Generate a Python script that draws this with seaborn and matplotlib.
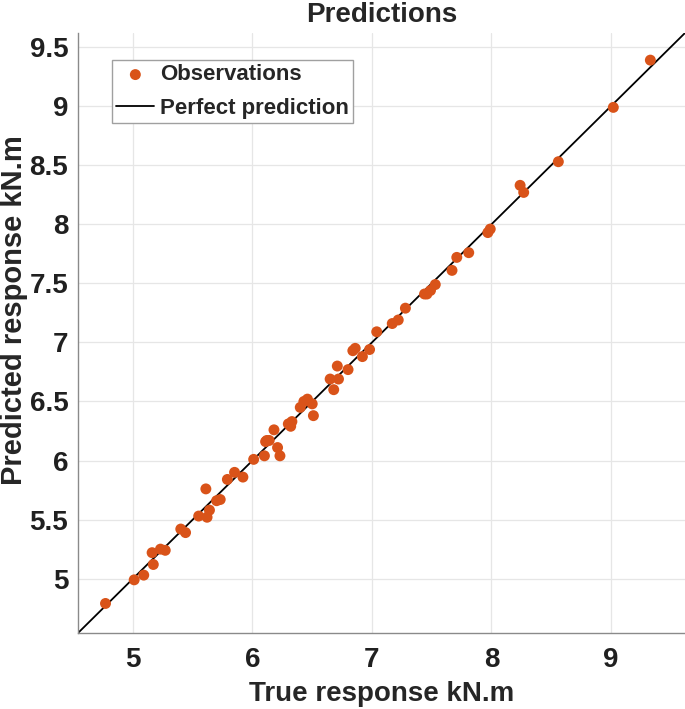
import numpy as np
import pandas as pd
import matplotlib
matplotlib.use("Agg")
import matplotlib.pyplot as plt
import seaborn as sns

# ---------------------------
# Data (true vs predicted, kN.m)
# ---------------------------
true_resp = [4.77, 5.01, 5.09, 5.16, 5.17, 5.23, 5.27, 5.40, 5.44, 5.55,
             5.61, 5.62, 5.64, 5.70, 5.73, 5.79, 5.85, 5.92, 6.01, 6.10,
             6.12, 6.11, 6.14, 6.18, 6.21, 6.23, 6.30, 6.33, 6.32, 6.40,
             6.43, 6.46, 6.51, 6.50, 6.65, 6.68, 6.71, 6.72, 6.80, 6.84,
             6.86, 6.92, 6.98, 7.04, 7.17, 7.22, 7.28, 7.44, 7.46, 7.49,
             7.53, 7.67, 7.71, 7.81, 7.97, 7.99, 8.24, 8.27, 8.56, 9.02,
             9.33]
pred_resp = [4.79, 4.99, 5.03, 5.22, 5.12, 5.25, 5.24, 5.42, 5.39, 5.53,
             5.76, 5.52, 5.58, 5.66, 5.67, 5.84, 5.90, 5.86, 6.01, 6.04,
             6.17, 6.16, 6.17, 6.26, 6.11, 6.04, 6.31, 6.33, 6.29, 6.45,
             6.50, 6.52, 6.38, 6.48, 6.69, 6.60, 6.80, 6.69, 6.77, 6.93,
             6.95, 6.88, 6.94, 7.09, 7.16, 7.19, 7.29, 7.41, 7.41, 7.44,
             7.49, 7.61, 7.72, 7.76, 7.93, 7.96, 8.33, 8.27, 8.53, 8.99,
             9.39]

x_ticks = [5, 6, 7, 8, 9]
y_ticks = [5, 5.5, 6, 6.5, 7, 7.5, 8, 8.5, 9, 9.5]
y_tick_labels = ["5", "5.5", "6", "6.5", "7", "7.5", "8", "8.5", "9", "9.5"]
axis_lim = [4.54, 9.62]

df = pd.DataFrame({"true": true_resp, "pred": pred_resp})

# ---------------------------
# Style
# ---------------------------
sns.set_style("whitegrid")
plt.rcParams["font.family"] = ["Liberation Sans", "DejaVu Sans"]
plt.rcParams["font.weight"] = "bold"

fig = plt.figure(figsize=(6.85, 7.09), dpi=100)
ax = fig.add_axes([0.1139, 0.1072, 0.8861, 0.8463])

sns.scatterplot(data=df, x="true", y="pred", ax=ax, color="#D95319",
                s=62, edgecolor="none", label="Observations", zorder=3)
ax.axline((axis_lim[0], axis_lim[0]), slope=1, color="black", lw=1.3,
          label="Perfect prediction", zorder=2)

ax.set_xlim(axis_lim)
ax.set_ylim(axis_lim)
ax.set_xticks(x_ticks)
ax.set_yticks(y_ticks)
ax.set_yticklabels(y_tick_labels)

ax.grid(True, color="#e6e6e6", lw=0.9)
for side in ["top", "right"]:
    ax.spines[side].set_visible(False)
for side in ["left", "bottom"]:
    ax.spines[side].set_color("#8a8a8a")
    ax.spines[side].set_linewidth(1.0)

ax.tick_params(axis="both", direction="in", length=4, width=1,
               color="#8a8a8a", labelsize=20, labelcolor="#202020")
ax.tick_params(axis="x", pad=10)
ax.tick_params(axis="y", pad=7)
for lbl in ax.get_xticklabels() + ax.get_yticklabels():
    lbl.set_fontweight("bold")

ax.set_title("Predictions", fontsize=20, fontweight="bold", pad=8)
ax.set_xlabel("True response kN.m", fontsize=20, fontweight="bold", labelpad=6)
ax.set_ylabel("Predicted response kN.m", fontsize=21, fontweight="bold")
ax.yaxis.set_label_coords(-0.083, 0.538)

leg = ax.legend(loc="upper left", bbox_to_anchor=(0.056, 0.955),
                borderaxespad=0, fontsize=16, frameon=True, fancybox=False,
                framealpha=1, edgecolor="#a0a0a0", handlelength=1.7,
                handletextpad=0.25, borderpad=0.2, labelspacing=0.55)
for t in leg.get_texts():
    t.set_fontweight("bold")
leg.get_frame().set_linewidth(1.0)

plt.savefig("out.png", dpi=100)
plt.close()
